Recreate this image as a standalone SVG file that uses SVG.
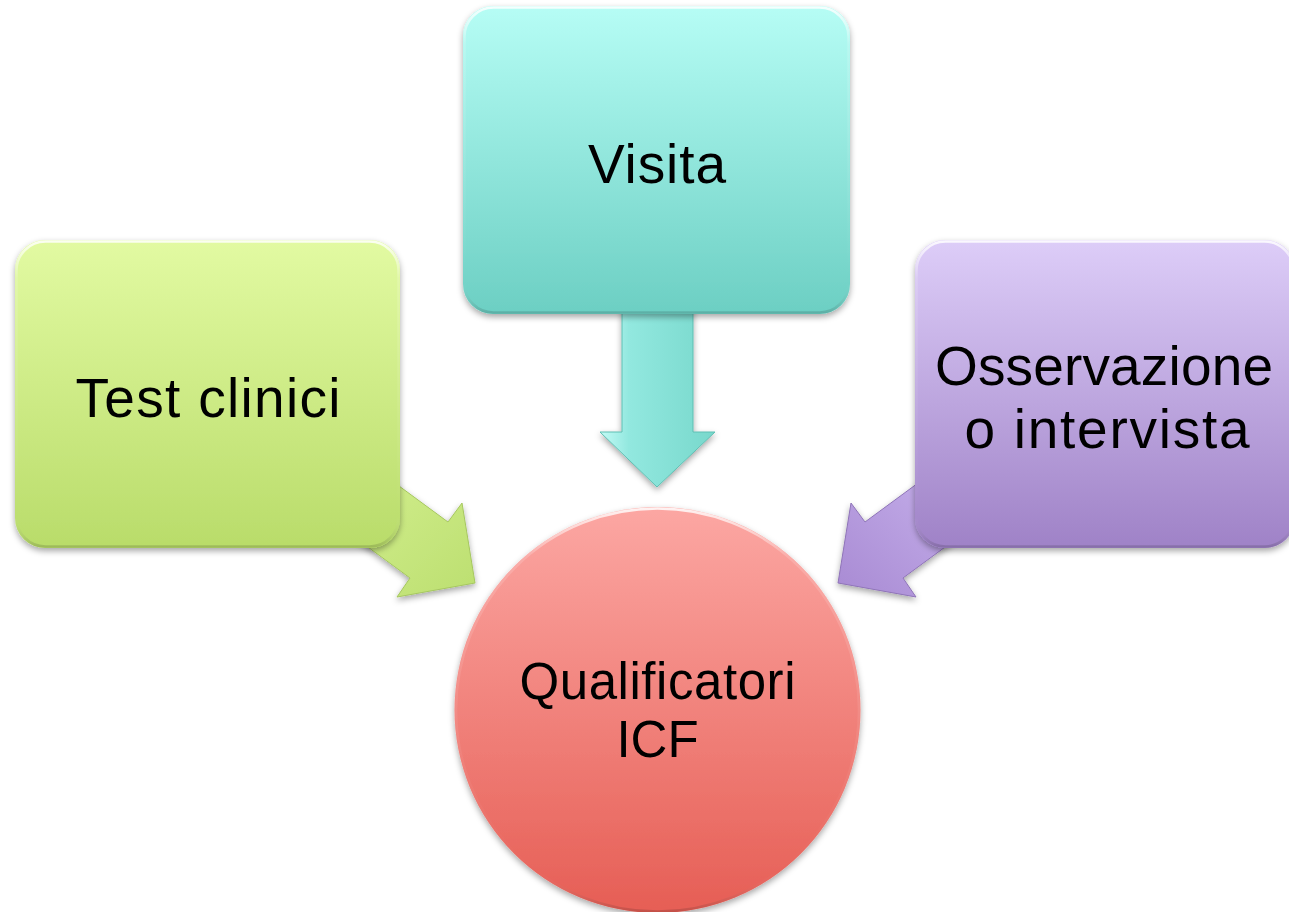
<svg xmlns="http://www.w3.org/2000/svg" width="1289" height="912" viewBox="0 0 1289 912">
<style>
.lbl{font-family:"Liberation Sans",Arial,sans-serif;fill:#000;text-anchor:middle}
.big{font-size:55px}
.mid{font-size:51px}
.edge{fill:none;stroke:url(#hl);stroke-width:2.5}
</style>
<defs>
<filter id="sh" x="-10%" y="-10%" width="120%" height="125%">
<feDropShadow dx="0" dy="3" stdDeviation="3" flood-color="#000" flood-opacity="0.35"/>
</filter>
<linearGradient id="hl" x1="0" y1="0" x2="0" y2="1">
<stop offset="0" stop-color="#fff" stop-opacity="0.85"/><stop offset="0.12" stop-color="#fff" stop-opacity="0.15"/><stop offset="0.9" stop-color="#fff" stop-opacity="0"/><stop offset="1" stop-color="#000" stop-opacity="0.15"/>
</linearGradient>
<linearGradient id="gGreen" x1="0" y1="0" x2="0" y2="1">
<stop offset="0" stop-color="#e2faa2"/><stop offset="1" stop-color="#b9dc6a"/>
</linearGradient>
<linearGradient id="gTeal" x1="0" y1="0" x2="0" y2="1">
<stop offset="0" stop-color="#b6fdf5"/><stop offset="1" stop-color="#6ccfc3"/>
</linearGradient>
<linearGradient id="gPurple" x1="0" y1="0" x2="0" y2="1">
<stop offset="0" stop-color="#ddcdf8"/><stop offset="1" stop-color="#9f82c7"/>
</linearGradient>
<linearGradient id="gRed" x1="0" y1="0" x2="0" y2="1">
<stop offset="0" stop-color="#fca7a3"/><stop offset="1" stop-color="#e65e55"/>
</linearGradient>
<linearGradient id="aTeal" x1="0" y1="0" x2="1" y2="0">
<stop offset="0" stop-color="#c4fbf6"/><stop offset="0.25" stop-color="#92e8df"/><stop offset="1" stop-color="#78d8cc"/>
</linearGradient>
<linearGradient id="aGreen" x1="0" y1="0" x2="1" y2="1">
<stop offset="0" stop-color="#d3ef8f"/><stop offset="1" stop-color="#bcdf70"/>
</linearGradient>
<linearGradient id="aPurple" x1="1" y1="0" x2="0" y2="1">
<stop offset="0" stop-color="#c7b2ec"/><stop offset="1" stop-color="#a88ad3"/>
</linearGradient>
</defs>

<g id="connectors">
<polygon points="380,472 448,522 462,503 475,583 397,597 410,578 342,528" fill="url(#aGreen)" stroke="#a6c760" stroke-width="1" filter="url(#sh)"/>
<polygon points="622,300 693,300 693,432 715,432 657,487 600,432 622,432" fill="url(#aTeal)" stroke="#5fbfb3" stroke-width="1" filter="url(#sh)"/>
<polygon points="933,472 865,522 851,503 838,583 916,597 903,578 971,528" fill="url(#aPurple)" stroke="#8f74b8" stroke-width="1" filter="url(#sh)"/>
</g>

<g id="node-test">
<rect x="15" y="240" width="385" height="308" rx="30" ry="30" fill="url(#gGreen)" filter="url(#sh)"/>
<rect x="16.5" y="241.5" width="382" height="305" rx="29" ry="29" class="edge"/>
<text class="lbl big" x="208" y="417" textLength="265">Test clinici</text>
</g>

<g id="node-visita">
<rect x="463" y="6" width="387" height="308" rx="30" ry="30" fill="url(#gTeal)" filter="url(#sh)"/>
<rect x="464.5" y="7.5" width="384" height="305" rx="29" ry="29" class="edge"/>
<text class="lbl big" x="657" y="183" textLength="138">Visita</text>
</g>

<g id="node-osservazione">
<rect x="915" y="240" width="380" height="308" rx="30" ry="30" fill="url(#gPurple)" filter="url(#sh)"/>
<rect x="916.5" y="241.5" width="377" height="305" rx="29" ry="29" class="edge"/>
<text class="lbl big" x="1104" y="385" textLength="338">Osservazione</text>
<text class="lbl big" x="1107" y="448" textLength="285">o intervista</text>
</g>

<g id="node-qualificatori">
<circle cx="657.5" cy="710" r="203" fill="url(#gRed)" filter="url(#sh)"/>
<circle cx="657.5" cy="710" r="201.5" class="edge"/>
<text class="lbl mid" x="657.5" y="699" textLength="276">Qualificatori</text>
<text class="lbl mid" x="657.5" y="757">ICF</text>
</g>
</svg>
